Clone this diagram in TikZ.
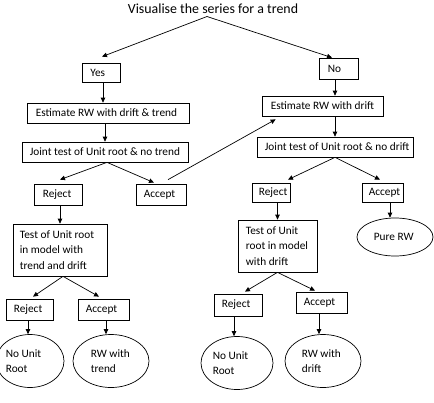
\documentclass[tikz,border=0pt]{standalone}
\usepackage{fontspec}
\setmainfont{Carlito}
\usetikzlibrary{arrows.meta,shapes.geometric}
\begin{document}
\begin{tikzpicture}[x=1pt,y=-1pt,
  box/.style={draw, line width=0.7pt, rectangle, inner sep=0pt},
  oval/.style={draw, line width=0.7pt, ellipse, inner sep=0pt},
  lbl/.style={inner sep=0pt, anchor=west, font=\fontsize{11.3}{15.5}\selectfont, align=left},
  arr/.style={line width=0.7pt, -{Triangle[length=5pt,width=4.5pt]}}
]
\useasboundingbox (0,0) rectangle (434,402);
\node[font=\fontsize{13.9}{16}\selectfont, inner sep=0pt] (title) at (213,9) {Visualise the series for a trend};
\coordinate (tsplit) at (207,16.5);

% boxes
\node[box, minimum width=38, minimum height=19] (yes) at (101,72.5) {};
\node[lbl] (yesT) at ([xshift=8.5pt]yes.west) {Yes};
\node[box, minimum width=39, minimum height=21] (no) at (338.5,68.5) {};
\node[lbl] (noT) at ([xshift=9pt]no.west) {No};
\node[box, minimum width=162, minimum height=20] (estT) at (108,113) {};
\node[lbl] (estTT) at ([xshift=9pt]estT.west) {Estimate RW with drift \& trend};
\node[box, minimum width=121, minimum height=20] (estD) at (322.5,106) {};
\node[lbl] (estDT) at ([xshift=9pt]estD.west) {Estimate RW with drift};
\node[box, minimum width=166, minimum height=20] (jointT) at (105,152) {};
\node[lbl] (jointTT) at ([xshift=8pt]jointT.west) {Joint test of Unit root \& no trend};
\node[box, minimum width=156, minimum height=20] (jointD) at (335,147) {};
\node[lbl] (jointDT) at ([xshift=8pt]jointD.west) {Joint test of Unit root \& no drift};
\node[box, minimum width=48, minimum height=21] (rejL) at (58,194.5) {};
\node[lbl] (rejLT) at ([xshift=9pt]rejL.west) {Reject};
\node[box, minimum width=50, minimum height=21] (accL) at (161,194.5) {};
\node[lbl] (accLT) at ([xshift=8pt]accL.west) {Accept};
\node[box, minimum width=94, minimum height=52] (testL) at (60,250) {};
\node[lbl] (testLT) at ([xshift=7pt]testL.west) {Test of Unit root\\in model with\\trend and drift};
\node[box, minimum width=47, minimum height=21] (rejL2) at (29.5,309.5) {};
\node[lbl] (rejL2T) at ([xshift=8pt]rejL2.west) {Reject};
\node[box, minimum width=51, minimum height=21] (accL2) at (103.5,309.5) {};
\node[lbl] (accL2T) at ([xshift=8pt]accL2.west) {Accept};
\node[box, minimum width=38, minimum height=19] (rejR) at (271,192.5) {};
\node[lbl] (rejRT) at ([xshift=7pt]rejR.west) {Reject};
\node[box, minimum width=41, minimum height=19] (accR) at (382.5,192.5) {};
\node[lbl] (accRT) at ([xshift=7pt]accR.west) {Accept};
\node[box, minimum width=79, minimum height=52] (testR) at (277.5,246) {};
\node[lbl] (testRT) at ([xshift=8pt]testR.west) {Test of Unit\\root in model\\with drift};
\node[box, minimum width=48, minimum height=22] (rejR2) at (238,305) {};
\node[lbl] (rejR2T) at ([xshift=8pt]rejR2.west) {Reject};
\node[box, minimum width=51, minimum height=21] (accR2) at (321.5,302.5) {};
\node[lbl] (accR2T) at ([xshift=8pt]accR2.west) {Accept};

% ellipses
\node[oval, minimum width=68, minimum height=53] (nurL) at (30,361) {};
\node[lbl] (nurLT) at ([xshift=10pt]nurL.west) {No Unit\\Root};
\node[oval, minimum width=76, minimum height=53] (rwt) at (111,361) {};
\node[lbl] (rwtT) at ([xshift=18pt]rwt.west) {RW with\\trend};
\node[oval, minimum width=76, minimum height=38] (pure) at (395,237) {};
\node[lbl] (pureT) at ([xshift=17pt]pure.west) {Pure RW};
\node[oval, minimum width=72, minimum height=53] (nurR) at (237,363) {};
\node[lbl] (nurRT) at ([xshift=12pt]nurR.west) {No Unit\\Root};
\node[oval, minimum width=76, minimum height=53] (rwd) at (323,361) {};
\node[lbl] (rwdT) at ([xshift=17pt]rwd.west) {RW with\\drift};

% connectors
\draw[arr] (tsplit) -- ([xshift=1pt,yshift=6pt]yes.north);
\draw[arr] (tsplit) -- ([xshift=-6.5pt]no.north);
\draw[arr] ([xshift=2pt]yes.south) -- ([xshift=2pt]yes.south |- estT.north);
\draw[arr] ([xshift=-3.5pt]no.south) -- ([xshift=-3.5pt]no.south |- estD.north);
\draw[arr] (jointT.north |- estT.south) -- (jointT.north);
\draw[arr] (jointD.north |- estD.south) -- (jointD.north);
\draw[arr] ([xshift=2pt]jointT.south) -- ([xshift=2pt,yshift=4pt]rejL.north);
\draw[arr] ([xshift=2pt]jointT.south) -- ([xshift=-7pt,yshift=1pt]accL.north);
\draw[arr] ([xshift=7pt,yshift=4pt]accL.north) -- ([xshift=14pt,yshift=-3pt]estD.south west);
\draw[arr] ([xshift=2pt]rejL.south) -- ([xshift=2pt]rejL.south |- testL.north);
\draw[arr] ([xshift=3pt]testL.south) -- ([xshift=3.5pt,yshift=2pt]rejL2.north);
\draw[arr] ([xshift=3pt]testL.south) -- ([xshift=-4.5pt,yshift=2pt]accL2.north);
\draw[arr] ([xshift=-1.5pt]rejL2.south) -- ([xshift=-1.5pt]rejL2.south |- nurL.north);
\draw[arr] ([xshift=2.5pt]accL2.south) -- ([xshift=2.5pt]accL2.south |- rwt.north);
\draw[arr] (jointD.south) -- ([xshift=17pt,yshift=3pt]rejR.north);
\draw[arr] (jointD.south) -- ([xshift=-2.5pt,yshift=3pt]accR.north);
\draw[arr] (testR.north |- rejR.south) -- (testR.north);
\draw[arr] ([xshift=7.5pt]accR.south) -- ([xshift=7.5pt]accR.south |- pure.north);
\draw[arr] (testR.south) -- ([xshift=7pt,yshift=2pt]rejR2.north);
\draw[arr] (testR.south) -- ([xshift=-6.5pt,yshift=1pt]accR2.north);
\draw[arr] ([xshift=-4pt]rejR2.south) -- ([xshift=-4pt]rejR2.south |- nurR.north);
\draw[arr] ([xshift=-2.5pt]accR2.south) -- ([xshift=-2.5pt]accR2.south |- rwd.north);
\end{tikzpicture}
\end{document}
